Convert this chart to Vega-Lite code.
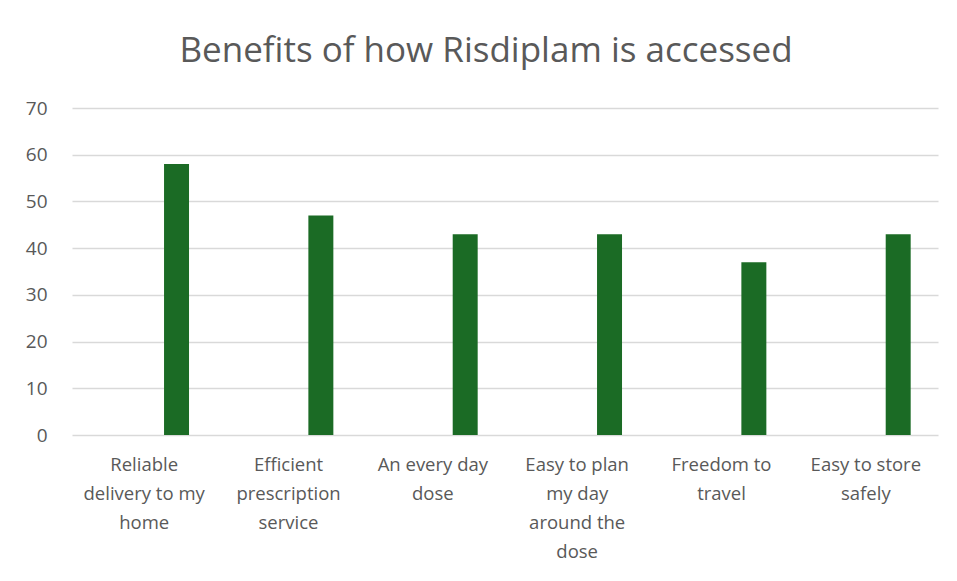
{
  "$schema": "https://vega.github.io/schema/vega-lite/v6.json",
  "autosize": "none",
  "width": 866,
  "height": 327,
  "padding": {"left": 72, "top": 108, "right": 19, "bottom": 146},
  "background": "white",
  "title": {
    "text": "Benefits of how Risdiplam is accessed",
    "font": "Open Sans",
    "fontSize": 35,
    "fontWeight": "normal",
    "color": "#595959",
    "anchor": "middle",
    "baseline": "alphabetic",
    "offset": 2,
    "dx": -19
  },
  "data": {
    "values": [
      {"benefit": "Reliable delivery to my home", "series": "S1", "value": null},
      {"benefit": "Efficient prescription service", "series": "S1", "value": null},
      {"benefit": "An every day dose", "series": "S1", "value": null},
      {"benefit": "Easy to plan my day around the dose", "series": "S1", "value": null},
      {"benefit": "Freedom to travel", "series": "S1", "value": null},
      {"benefit": "Easy to store safely", "series": "S1", "value": null},
      {"benefit": "Reliable delivery to my home", "series": "S2", "value": 58},
      {"benefit": "Efficient prescription service", "series": "S2", "value": 47},
      {"benefit": "An every day dose", "series": "S2", "value": 43},
      {"benefit": "Easy to plan my day around the dose", "series": "S2", "value": 43},
      {"benefit": "Freedom to travel", "series": "S2", "value": 37},
      {"benefit": "Easy to store safely", "series": "S2", "value": 43}
    ]
  },
  "mark": {"type": "bar", "color": "#1b6b25"},
  "encoding": {
    "x": {
      "field": "benefit",
      "type": "nominal",
      "sort": null,
      "scale": {"paddingInner": 0, "paddingOuter": 0},
      "axis": {
        "title": null,
        "domain": false,
        "ticks": false,
        "labelAngle": 0,
        "labelLimit": 0,
        "labelFont": "Open Sans",
        "labelFontSize": 18.5,
        "labelColor": "#595959",
        "labelBaseline": "top",
        "labelLineHeight": 29,
        "labelPadding": 20,
        "labelExpr": "datum.value == 'Reliable delivery to my home' ? ['Reliable', 'delivery to my', 'home'] : datum.value == 'Efficient prescription service' ? ['Efficient', 'prescription', 'service'] : datum.value == 'An every day dose' ? ['An every day', 'dose'] : datum.value == 'Easy to plan my day around the dose' ? ['Easy to plan', 'my day', 'around the', 'dose'] : datum.value == 'Freedom to travel' ? ['Freedom to', 'travel'] : ['Easy to store', 'safely']"
      }
    },
    "xOffset": {
      "field": "series",
      "type": "nominal",
      "scale": {"domain": ["S1", "S2"], "paddingInner": 0.614, "paddingOuter": 0.422}
    },
    "y": {
      "field": "value",
      "type": "quantitative",
      "scale": {"domain": [0, 70], "nice": false},
      "axis": {
        "title": null,
        "values": [0, 10, 20, 30, 40, 50, 60, 70],
        "domain": false,
        "ticks": false,
        "grid": true,
        "gridColor": "#d9d9d9",
        "gridWidth": 1.3,
        "labelFont": "Open Sans",
        "labelFontSize": 19,
        "labelColor": "#595959",
        "labelPadding": 25
      }
    }
  },
  "config": {"view": {"stroke": null}}
}
